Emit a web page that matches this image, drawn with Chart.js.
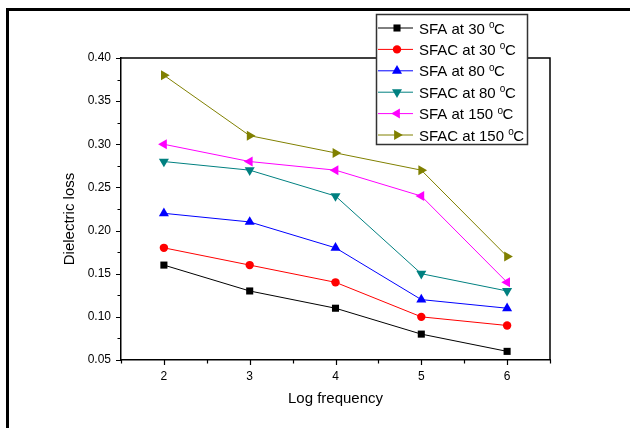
<!DOCTYPE html>
<html lang="en">
<head>
  <meta charset="UTF-8">
  <title>Dielectric loss</title>
  <script src="https://cdn.jsdelivr.net/npm/chart.js"></script>
  <style>
    body { margin: 0; background: #fff; }
    #wrap { width: 630px; height: 428px; }
  </style>
</head>
<body>
  <div id="wrap"><canvas id="chart" width="630" height="428"></canvas></div>

<script>
  // values
  const freq = [2, 3, 4, 5, 6];
  const sfa30 = [0.16, 0.13, 0.11, 0.08, 0.06];
  const sfac30 = [0.18, 0.16, 0.14, 0.10, 0.09];
  const sfa80 = [0.22, 0.21, 0.18, 0.12, 0.11];
  const sfac80 = [0.28, 0.27, 0.24, 0.15, 0.13];
  const sfa150 = [0.30, 0.28, 0.27, 0.24, 0.14];
  const sfac150 = [0.38, 0.31, 0.29, 0.27, 0.17];
  const labels = ['SFA at 30 °C', 'SFAC at 30 °C', 'SFA at 80 °C', 'SFAC at 80 °C', 'SFA at 150 °C', 'SFAC at 150 °C'];
  const yTicks = [0.05, 0.10, 0.15, 0.20, 0.25, 0.30, 0.35, 0.40];

  const FONT = '"Liberation Sans", Arial, sans-serif';

  const series = [sfa30, sfac30, sfa80, sfac80, sfa150, sfac150];
  const colors = ['#000000', '#ff0000', '#0000ff', '#008080', '#ff00ff', '#808000'];
  const marks = [
    { style: 'rect', rot: 0, r: 5 },
    { style: 'circle', rot: 0, r: 4.2 },
    { style: 'triangle', rot: 0, r: 5.8 },
    { style: 'triangle', rot: 180, r: 5.8 },
    { style: 'triangle', rot: 270, r: 5.8 },
    { style: 'triangle', rot: 90, r: 5.8 }
  ];

  let datasets = [];
  for (let i = 0; i < series.length; i++) {
    datasets.push({
      label: labels[i],
      data: freq.map((f, k) => ({ x: f, y: series[i][k] })),
      borderColor: colors[i],
      backgroundColor: colors[i],
      borderWidth: 1,
      pointStyle: marks[i].style,
      pointRotation: marks[i].rot,
      pointRadius: marks[i].r,
      pointBorderWidth: 0,
      tension: 0,
      clip: false
    });
  }

  // extra drawing: box, minor ticks, titles, legend, outer frame
  const extras = {
    id: 'extras',
    afterDraw(chart) {
      const ctx = chart.ctx;
      const a = chart.chartArea;
      const xs = chart.scales.x, ys = chart.scales.y;
      ctx.save();

      // top and right sides of the box
      ctx.strokeStyle = '#000';
      ctx.lineWidth = 1.5;
      ctx.beginPath();
      ctx.moveTo(a.left, a.top);
      ctx.lineTo(a.right, a.top);
      ctx.lineTo(a.right, a.bottom);
      ctx.stroke();

      // ticks
      ctx.lineWidth = 1.2;
      ctx.beginPath();
      for (let v = 1.5; v <= 6.5001; v += 0.5) {
        const px = Math.round(xs.getPixelForValue(v)) + 0.5;
        const len = Number.isInteger(v) ? 5 : 3.5;
        ctx.moveTo(px, a.bottom);
        ctx.lineTo(px, a.bottom + len);
      }
      for (let i = 0; i <= 14; i++) {
        const py = Math.round(ys.getPixelForValue(0.05 + i * 0.025)) + 0.5;
        const len = i % 2 === 0 ? 5 : 3.5;
        ctx.moveTo(a.left, py);
        ctx.lineTo(a.left - len, py);
      }
      ctx.stroke();

      // axis titles
      ctx.fillStyle = '#000';
      ctx.font = '15px ' + FONT;
      ctx.textAlign = 'center';
      ctx.textBaseline = 'middle';
      ctx.fillText('Log frequency', (a.left + a.right) / 2, 399);
      ctx.save();
      ctx.translate(70, 219);
      ctx.rotate(-Math.PI / 2);
      ctx.fillText('Dielectric loss', 0, 0);
      ctx.restore();

      // legend
      const lx = 376.5, ly = 14.5, lw = 151, lh = 130;
      ctx.fillStyle = '#fff';
      ctx.fillRect(lx, ly, lw, lh);
      ctx.strokeStyle = '#333';
      ctx.lineWidth = 1.5;
      ctx.strokeRect(lx, ly, lw, lh);
      for (let i = 0; i < labels.length; i++) {
        const ry = 28 + i * 21.4;
        ctx.strokeStyle = colors[i];
        ctx.fillStyle = colors[i];
        ctx.lineWidth = 1;
        ctx.beginPath();
        ctx.moveTo(378, ry);
        ctx.lineTo(413, ry);
        ctx.stroke();
        Chart.helpers.drawPoint(ctx, { pointStyle: marks[i].style, rotation: marks[i].rot, radius: marks[i].r, borderWidth: 0 }, 397, ry);

        const parts = labels[i].split('°');
        ctx.fillStyle = '#000';
        ctx.textAlign = 'left';
        ctx.textBaseline = 'alphabetic';
        ctx.font = '15px ' + FONT;
        let tx = 419;
        ctx.fillText(parts[0], tx, ry + 5.5);
        tx += ctx.measureText(parts[0]).width;
        ctx.font = '10px ' + FONT;
        ctx.fillText('o', tx, ry);
        tx += ctx.measureText('o').width - 0.5;
        ctx.font = '15px ' + FONT;
        ctx.fillText(parts[1], tx, ry + 5.5);
      }

      // outer frame
      ctx.strokeStyle = '#000';
      ctx.lineWidth = 3;
      ctx.beginPath();
      ctx.moveTo(7.5, 428);
      ctx.lineTo(7.5, 9.5);
      ctx.lineTo(630, 9.5);
      ctx.stroke();

      ctx.restore();
    }
  };

  const config = {
    type: 'line',
    data: { datasets: datasets },
    options: {
      responsive: false,
      animation: false,
      layout: { padding: { left: 0, top: 58, right: 80, bottom: 0 } },
      plugins: {
        legend: { display: false },
        tooltip: { enabled: false }
      },
      scales: {
        x: {
          type: 'linear',
          min: 1.5,
          max: 6.5,
          afterFit: (s) => { s.height = 68; },
          afterBuildTicks: (s) => { s.ticks = freq.map(v => ({ value: v })); },
          grid: { drawOnChartArea: false, drawTicks: false },
          border: { color: '#000', width: 1.5 },
          ticks: {
            autoSkip: false,
            maxRotation: 0,
            padding: 9,
            color: '#000',
            font: { family: FONT, size: 12 },
            callback: (v) => String(v)
          }
        },
        y: {
          type: 'linear',
          min: yTicks[0],
          max: yTicks[yTicks.length - 1],
          afterFit: (s) => { s.width = 121; },
          afterBuildTicks: (s) => { s.ticks = yTicks.map(v => ({ value: v })); },
          grid: { drawOnChartArea: false, drawTicks: false },
          border: { color: '#000', width: 1.5 },
          ticks: {
            padding: 10,
            color: '#000',
            font: { family: FONT, size: 12 },
            callback: (v) => Number(v).toFixed(2)
          }
        }
      }
    },
    plugins: [extras]
  };

  new Chart(document.getElementById('chart'), config);
</script>
</body>
</html>
